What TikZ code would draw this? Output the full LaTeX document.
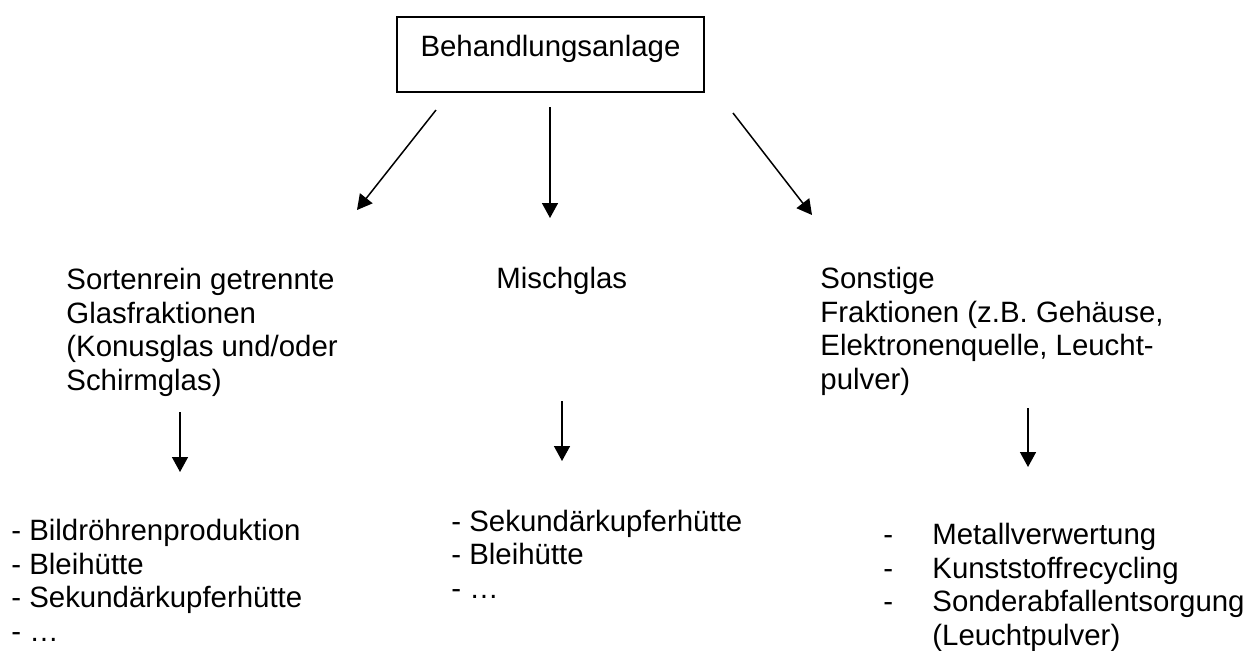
\documentclass[tikz,border=0pt]{standalone}
\usepackage{fontspec}
\setmainfont{Liberation Sans}
\usetikzlibrary{arrows.meta}
\begin{document}
\begin{tikzpicture}[x=0.5pt,y=-0.5pt,
  txt/.style={inner sep=0pt, anchor=base west, align=left, font=\fontsize{14.7}{16.7}\selectfont},
  topbox/.style={draw, line width=0.7pt, minimum width=153.5pt, minimum height=37.5pt, inner sep=0pt,
    text height=13pt, text depth=11pt, font=\fontsize{14.7}{16.7}\selectfont},
  conn/.style={line width=0.75pt, -{Triangle[length=7.5pt,width=8pt]}}]
\useasboundingbox (0,0) rectangle (1245,650);
\node[topbox] (top) at (550.5,54.5) {Behandlungsanlage};

% multi-line nodes: base anchor is the baseline of the last line
\node[txt] (left) at (66,390) {Sortenrein getrennte\\Glasfraktionen\\(Konusglas und/oder\\Schirmglas)};
\node[txt] (mid) at (496,288) {Mischglas};
\node[txt] (right) at (820,389) {Sonstige\\Fraktionen (z.B. Gehäuse,\\Elektronenquelle, Leucht-\\pulver)};

\node[txt] (leftlist) at (11,641) {- Bildröhrenproduktion\\- Bleihütte\\- Sekundärkupferhütte\\- …};
\node[txt] (midlist) at (451,598) {- Sekundärkupferhütte\\- Bleihütte\\- …};
\node[txt] (rightlist) at (883,645) {\makebox[24.5pt][l]{-}Metallverwertung\\\makebox[24.5pt][l]{-}Kunststoffrecycling\\\makebox[24.5pt][l]{-}Sonderabfallentsorgung\\\hspace*{24.5pt}(Leuchtpulver)};

\coordinate (a1s) at (436,110);
\coordinate (a1e) at (357,210);
\coordinate (a2s) at (550,107);
\coordinate (a2e) at (550,218);
\coordinate (a3s) at (733,113);
\coordinate (a3e) at (812,215);
\coordinate (b1s) at (180,412);
\coordinate (b1e) at (180,472);
\coordinate (b2s) at (562,401);
\coordinate (b2e) at (562,461);
\coordinate (b3s) at (1028,408);
\coordinate (b3e) at (1028,467);

\draw[conn] (a1s) -- (a1e);
\draw[conn] (a2s) -- (a2e);
\draw[conn] (a3s) -- (a3e);
\draw[conn] (b1s) -- (b1e);
\draw[conn] (b2s) -- (b2e);
\draw[conn] (b3s) -- (b3e);
\end{tikzpicture}
\end{document}
